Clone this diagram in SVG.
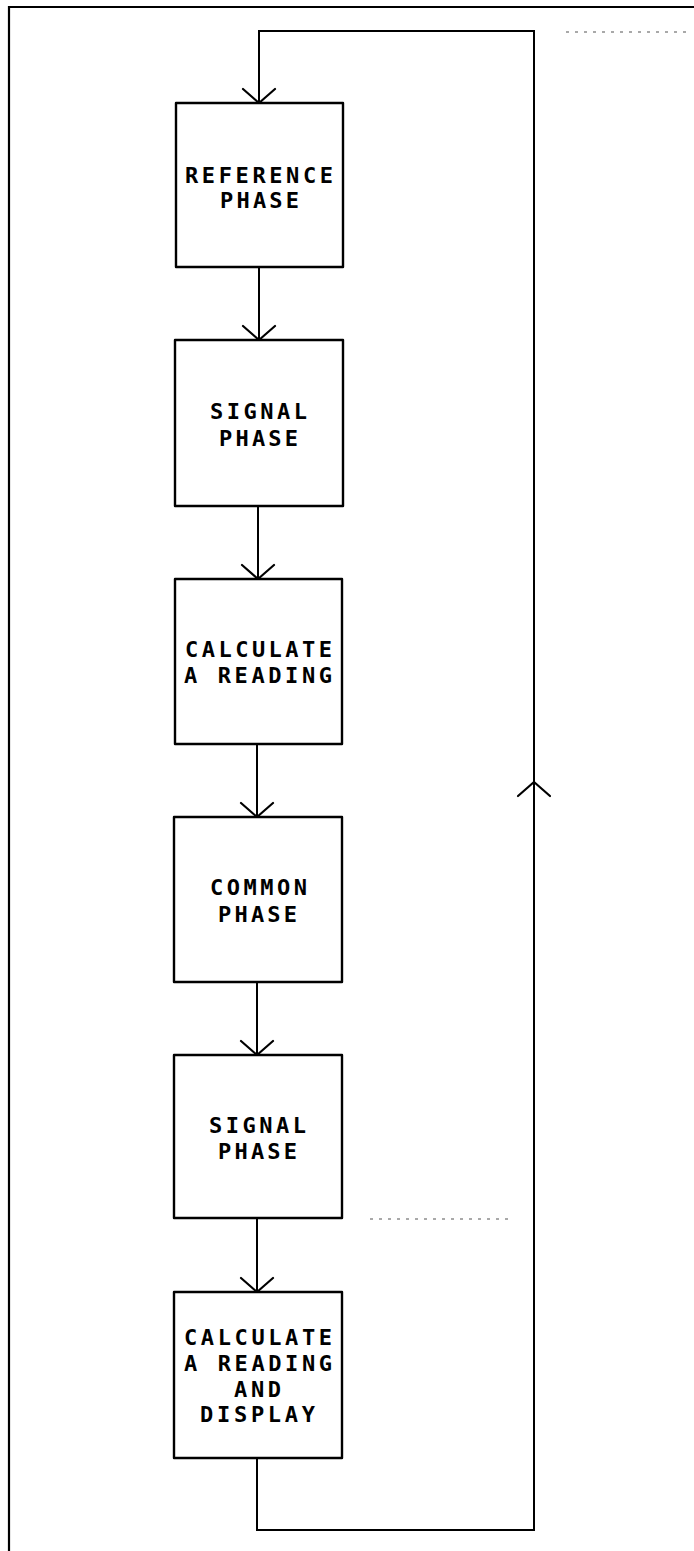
<svg xmlns="http://www.w3.org/2000/svg" width="694" height="1551" viewBox="0 0 694 1551">
<style>
.box{fill:#fff;stroke:#000;stroke-width:2.4;stroke-linejoin:round}
.lbl{font-family:"DejaVu Sans Mono","Liberation Mono",monospace;font-weight:bold;font-size:22px;fill:#000}
.wire{fill:none;stroke:#000;stroke-width:2}
.frame{fill:none;stroke:#000;stroke-width:2.2}
.speck{fill:none;stroke:#555;stroke-width:1.2;stroke-dasharray:3 6}
</style>
<defs>
<marker id="chev" viewBox="-16 -18 18 36" markerWidth="18" markerHeight="36" markerUnits="userSpaceOnUse" refX="0" refY="0" orient="auto" overflow="visible">
<path d="M-14,-16 L0,0 L-14,16" fill="none" stroke="#000" stroke-width="2.2" stroke-linecap="round" stroke-linejoin="round"/>
</marker>
</defs>
<g id="frame">
<path class="frame" d="M9,1551 V7 H694"/>
<path class="speck" d="M566,32 H690"/>
<path class="speck" d="M370,1219 H512"/>
</g>
<g id="connectors">
<path class="wire" d="M259,267 V340" marker-end="url(#chev)"/>
<path class="wire" d="M258,506 V579" marker-end="url(#chev)"/>
<path class="wire" d="M257,744 V817" marker-end="url(#chev)"/>
<path class="wire" d="M257,982 V1055" marker-end="url(#chev)"/>
<path class="wire" d="M257,1218 V1292" marker-end="url(#chev)"/>
<path class="wire" d="M257,1458 V1530 H534 V782" marker-end="url(#chev)"/>
<path class="wire" d="M534,782 V31 H259 V103" marker-end="url(#chev)"/>
</g>
<g id="n1">
<rect class="box" x="176" y="103" width="167" height="164"/>
<text class="lbl" x="185" y="183" textLength="148" lengthAdjust="spacing">REFERENCE</text>
<text class="lbl" x="220" y="208" textLength="79" lengthAdjust="spacing">PHASE</text>
</g>
<g id="n2">
<rect class="box" x="175" y="340" width="168" height="166"/>
<text class="lbl" x="210" y="419" textLength="97" lengthAdjust="spacing">SIGNAL</text>
<text class="lbl" x="219" y="446" textLength="79" lengthAdjust="spacing">PHASE</text>
</g>
<g id="n3">
<rect class="box" x="175" y="579" width="167" height="165"/>
<text class="lbl" x="185" y="657" textLength="147" lengthAdjust="spacing">CALCULATE</text>
<text class="lbl" x="184" y="683" textLength="148" lengthAdjust="spacing">A READING</text>
</g>
<g id="n4">
<rect class="box" x="174" y="817" width="168" height="165"/>
<text class="lbl" x="210" y="895" textLength="97" lengthAdjust="spacing">COMMON</text>
<text class="lbl" x="218" y="922" textLength="79" lengthAdjust="spacing">PHASE</text>
</g>
<g id="n5">
<rect class="box" x="174" y="1055" width="168" height="163"/>
<text class="lbl" x="209" y="1133" textLength="97" lengthAdjust="spacing">SIGNAL</text>
<text class="lbl" x="218" y="1159" textLength="79" lengthAdjust="spacing">PHASE</text>
</g>
<g id="n6">
<rect class="box" x="174" y="1292" width="168" height="166"/>
<text class="lbl" x="184" y="1345" textLength="148" lengthAdjust="spacing">CALCULATE</text>
<text class="lbl" x="184" y="1371" textLength="148" lengthAdjust="spacing">A READING</text>
<text class="lbl" x="234" y="1397" textLength="47" lengthAdjust="spacing">AND</text>
<text class="lbl" x="200" y="1422" textLength="115" lengthAdjust="spacing">DISPLAY</text>
</g>
</svg>
